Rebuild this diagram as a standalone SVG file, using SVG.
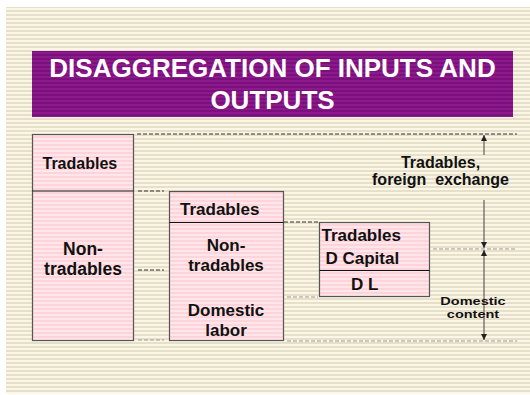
<svg xmlns="http://www.w3.org/2000/svg" width="530" height="395" viewBox="0 0 530 395">
  <defs>
    <pattern id="paper" width="8" height="4" patternUnits="userSpaceOnUse">
      <rect width="8" height="4" fill="#fcf7e4"/>
      <rect y="2" width="8" height="2" fill="#e6dfcb"/>
    </pattern>
    <pattern id="plum" width="8" height="4" patternUnits="userSpaceOnUse">
      <rect width="8" height="4" fill="#8c1a8c"/>
      <rect y="2" width="8" height="2" fill="#7b0f7b"/>
    </pattern>
    <pattern id="rose" width="8" height="4" patternUnits="userSpaceOnUse">
      <rect width="8" height="4" fill="#ffd3da"/>
      <rect y="2" width="8" height="2" fill="#ffe6ea"/>
    </pattern>
    <marker id="tipEnd" viewBox="0 0 6 6" refX="6" refY="3" markerWidth="6" markerHeight="6" markerUnits="userSpaceOnUse" orient="auto">
      <path d="M0,0 L6,3 L0,6 Z" fill="#222"/>
    </marker>
    <marker id="tipStart" viewBox="0 0 6 6" refX="0" refY="3" markerWidth="6" markerHeight="6" markerUnits="userSpaceOnUse" orient="auto">
      <path d="M6,0 L0,3 L6,6 Z" fill="#222"/>
    </marker>
  </defs>
  <style>
    text { font-family: "Liberation Sans", Arial, sans-serif; font-weight: bold; fill: #111; }
    .title { fill: #ffffff; font-size: 26px; }
    .box { fill: url(#rose); stroke: #555; stroke-width: 1.2; }
    .split { stroke: #111; stroke-width: 1.2; }
    .dash { fill: none; stroke: #333; stroke-width: 1; stroke-dasharray: 4 2; }
    .dash-light { fill: none; stroke: #999; stroke-width: 1; stroke-dasharray: 4 2; }
    .axis { fill: none; stroke: #444; stroke-width: 1; }
  </style>

  <!-- slide background -->
  <rect x="6" y="7" width="524" height="387" fill="url(#paper)"/>

  <!-- title banner -->
  <g id="title">
    <rect x="32" y="51" width="481" height="66" fill="url(#plum)"/>
    <text class="title" x="272.5" y="77" text-anchor="middle">DISAGGREGATION OF INPUTS AND</text>
    <text class="title" x="272.5" y="109" text-anchor="middle">OUTPUTS</text>
  </g>

  <!-- guide lines and dimension arrows -->
  <g id="connectors">
    <path class="dash" d="M137,134 H517"/>
    <path class="dash" d="M138,191 H164"/>
    <path class="dash" d="M138,270 H164"/>
    <path class="dash-light" d="M138,340 H164"/>
    <path class="dash" d="M284,222 H318"/>
    <path class="dash-light" d="M287,297 H318"/>
    <path class="dash-light" d="M433,249 H517"/>
    <path class="dash-light" d="M287,341 H517"/>
    <path class="axis" d="M484,155 V135" marker-end="url(#tipEnd)"/>
    <path class="axis" d="M484,200 V248" marker-end="url(#tipEnd)"/>
    <path class="axis" d="M484,250 V340" marker-start="url(#tipStart)" marker-end="url(#tipEnd)"/>
  </g>

  <!-- total: tradables / non-tradables -->
  <g id="total">
    <rect class="box" x="32.5" y="134.5" width="101" height="206"/>
    <line class="split" x1="32.5" y1="191" x2="133.5" y2="191"/>
    <text x="42.5" y="169" font-size="16">Tradables</text>
    <text x="83" y="255" font-size="17.5" text-anchor="middle">Non-</text>
    <text x="83" y="275" font-size="17.5" text-anchor="middle">tradables</text>
  </g>

  <!-- non-tradables split -->
  <g id="nontradables">
    <rect class="box" x="169.5" y="191.5" width="114" height="149"/>
    <line class="split" x1="169.5" y1="222.5" x2="283.5" y2="222.5"/>
    <text x="180" y="215" font-size="17">Tradables</text>
    <text x="226" y="251" font-size="17" text-anchor="middle">Non-</text>
    <text x="226" y="271" font-size="17" text-anchor="middle">tradables</text>
    <text x="226" y="316" font-size="17" text-anchor="middle">Domestic</text>
    <text x="226" y="336" font-size="17" text-anchor="middle">labor</text>
  </g>

  <!-- second-round non-tradables split -->
  <g id="secondround">
    <rect class="box" x="319.5" y="222.5" width="110" height="74" stroke="#888" stroke-width="2"/>
    <line class="split" x1="319.5" y1="270.5" x2="429.5" y2="270.5"/>
    <text x="321.5" y="241" font-size="17">Tradables</text>
    <text x="325.5" y="263.5" font-size="17">D Capital</text>
    <text x="351" y="290" font-size="17">D L</text>
  </g>

  <!-- right-hand labels -->
  <g id="label-fx">
    <text x="440.5" y="168" font-size="16" text-anchor="middle">Tradables,</text>
    <text x="440.5" y="185" font-size="16" text-anchor="middle" xml:space="preserve">foreign  exchange</text>
  </g>
  <g id="label-domestic">
    <!-- squeezed vertically, lines set tight -->
    <text font-size="14.5" text-anchor="middle" transform="translate(0,59.4) scale(1,0.8)"><tspan x="473" y="307">Domestic</tspan><tspan x="473" y="323.25">content</tspan></text>
  </g>
</svg>
